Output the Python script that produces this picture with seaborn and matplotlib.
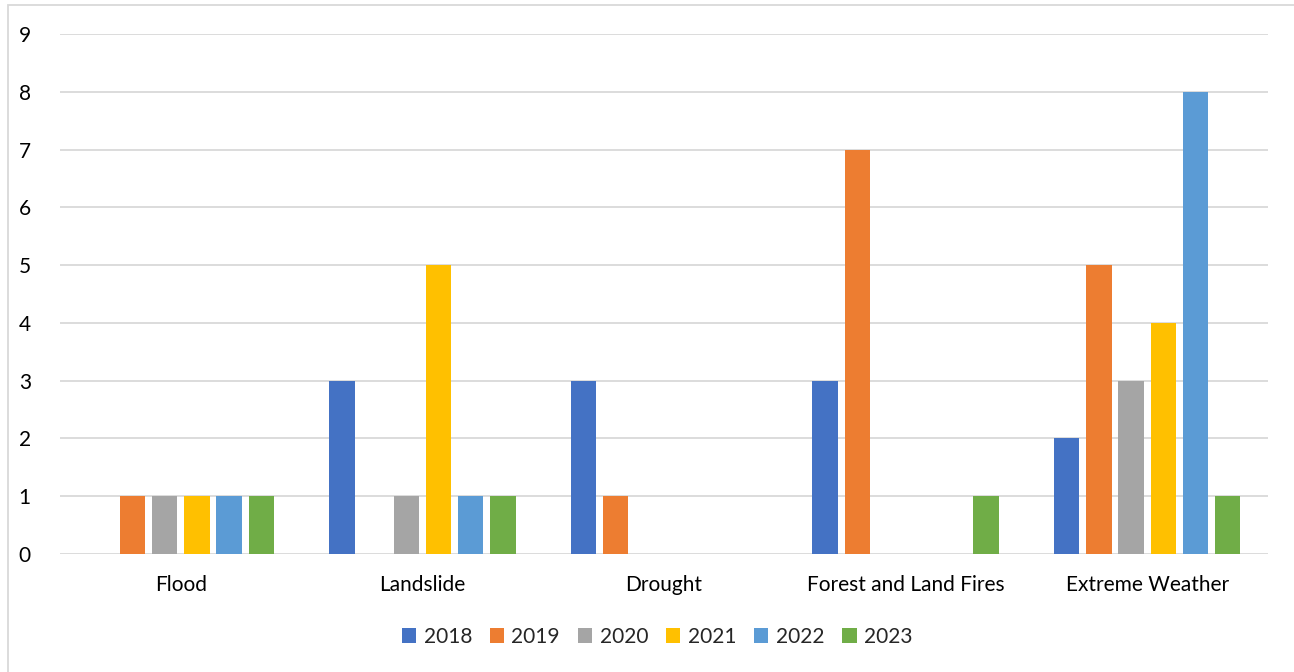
import matplotlib
matplotlib.use("Agg")
import matplotlib.pyplot as plt
import seaborn as sns
import pandas as pd
from matplotlib.patches import Rectangle, Patch

categories = ["Flood", "Landslide", "Drought", "Forest and Land Fires", "Extreme Weather"]
years = ["2018", "2019", "2020", "2021", "2022", "2023"]
v2018 = [0, 3, 3, 3, 2]
v2019 = [1, 0, 1, 7, 5]
v2020 = [1, 1, 0, 0, 3]
v2021 = [1, 5, 0, 0, 4]
v2022 = [1, 1, 0, 0, 8]
v2023 = [1, 1, 0, 1, 1]
colors = ["#4472C4", "#ED7D31", "#A5A5A5", "#FFC000", "#5B9BD5", "#70AD47"]

series = [v2018, v2019, v2020, v2021, v2022, v2023]
rows = []
for y, vals in zip(years, series):
    for c, v in zip(categories, vals):
        rows.append({"Category": c, "Year": y, "Value": v})
df = pd.DataFrame(rows)

sns.set_theme(style="white")
plt.rcParams["font.family"] = ["Lato", "DejaVu Sans"]

W, H = 1294, 672
fig = plt.figure(figsize=(W / 100, H / 100), dpi=100)
ax = fig.add_axes([60 / W, 1 - 554 / H, (1268 - 60) / W, (554 - 34) / H])

sns.barplot(data=df, x="Category", y="Value", hue="Year", order=categories,
            hue_order=years, palette=colors, width=0.8, gap=0.21,
            saturation=1, ax=ax, legend=False, linewidth=0, edgecolor="none")

ax.set_xlim(-0.5, 4.5)
ax.set_ylim(0, 9)
ax.set_yticks(range(0, 10))
ax.yaxis.grid(True, color="#D9D9D9", linewidth=1.3)
ax.set_axisbelow(True)
for s in ax.spines.values():
    s.set_visible(False)
ax.set_xlabel("")
ax.set_ylabel("")
ax.tick_params(axis="y", length=0, pad=21, labelsize=15, labelcolor="#000000")
ax.tick_params(axis="x", length=0, pad=15, labelsize=15, labelcolor="#000000")

handles = [Patch(facecolor=c, edgecolor="none", label=y) for c, y in zip(colors, years)]
fig.legend(handles=handles, loc="center", bbox_to_anchor=(657 / W, 1 - 637 / H),
           ncol=6, frameon=False, fontsize=15, handlelength=0.7, handleheight=0.7,
           handletextpad=0.35, columnspacing=0.85)

fig.patches.append(Rectangle((8 / W, -0.1), 1.2, 1 - 5 / H + 0.1, transform=fig.transFigure,
                             fill=False, edgecolor="#D9D9D9", linewidth=1.3))

fig.savefig("out.png", dpi=100, facecolor="white")
